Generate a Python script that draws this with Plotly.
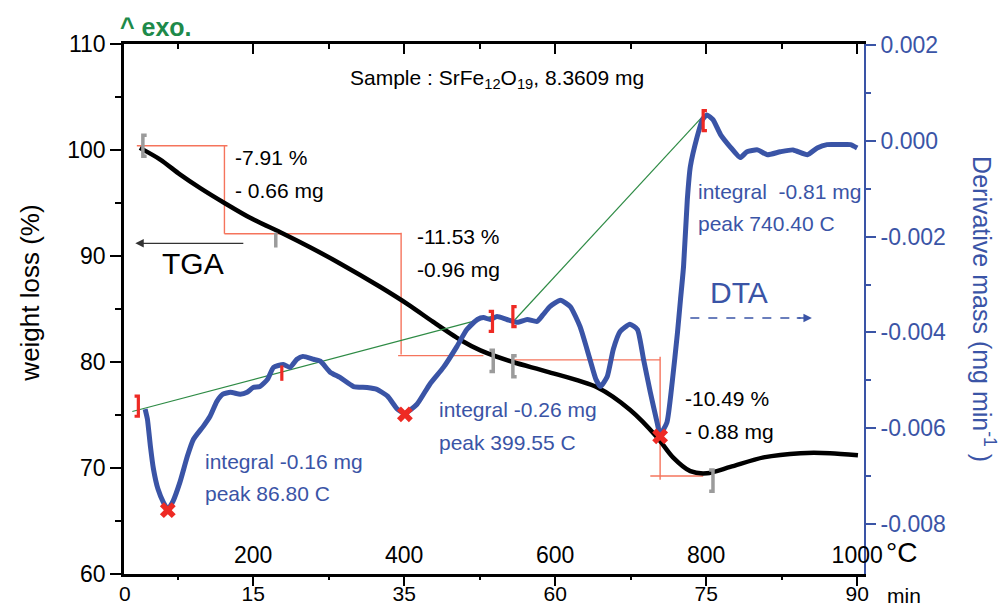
import plotly.graph_objects as go

# ---------------- data ----------------
# TGA curve: temperature (°C) vs weight (%)
tga_temp = [50, 77, 103, 130, 162, 196, 240, 276, 315, 368, 408, 438, 474, 501, 544,
            589, 656, 699, 735, 756, 779, 801, 832, 876, 925, 964, 1001]
tga_wt = [100.2, 99.1, 97.7, 96.4, 95.0, 93.6, 92.1, 90.8, 89.3, 87.1, 85.3, 83.8, 82.1, 81.1, 80.0,
          79.1, 77.6, 75.5, 72.9, 71.0, 69.7, 69.5, 70.1, 71.0, 71.4, 71.4, 71.2]

# DTA / derivative mass curve: temperature (°C) vs mg/min
dta_temp = [57, 60, 64, 68, 74, 81, 87, 94, 103, 113, 121, 134, 143, 152, 160, 170, 183, 192, 200, 209,
            219, 227, 240, 249, 258, 266, 280, 289, 302, 315, 333, 351, 364, 378, 391, 401, 417, 434, 452, 470,
            483, 497, 505, 514, 523, 536, 550, 563, 576, 584, 593, 607, 620, 633, 646, 654, 660, 669, 677, 686,
            699, 709, 717, 726, 735, 739, 748, 755, 762, 766, 770, 775, 779, 788, 795, 801, 809, 819, 832, 845,
            854, 868, 881, 898, 915, 934, 947, 960, 978, 991, 1000]
dta_val = [-5.60e-3, -5.81e-3, -6.38e-3, -6.85e-3, -7.27e-3, -7.54e-3, -7.69e-3, -7.52e-3, -7.13e-3, -6.58e-3,
           -6.23e-3, -5.96e-3, -5.75e-3, -5.44e-3, -5.29e-3, -5.25e-3, -5.29e-3, -5.25e-3, -5.15e-3, -5.13e-3,
           -4.98e-3, -4.73e-3, -4.67e-3, -4.73e-3, -4.56e-3, -4.50e-3, -4.56e-3, -4.60e-3, -4.83e-3, -4.94e-3,
           -5.13e-3, -5.15e-3, -5.19e-3, -5.33e-3, -5.60e-3, -5.69e-3, -5.50e-3, -5.08e-3, -4.73e-3, -4.29e-3,
           -3.94e-3, -3.73e-3, -3.69e-3, -3.73e-3, -3.67e-3, -3.73e-3, -3.79e-3, -3.73e-3, -3.77e-3, -3.63e-3,
           -3.46e-3, -3.33e-3, -3.46e-3, -3.88e-3, -4.56e-3, -4.98e-3, -5.13e-3, -4.92e-3, -4.35e-3, -3.98e-3,
           -3.83e-3, -3.94e-3, -4.56e-3, -5.25e-3, -5.88e-3, -6.13e-3, -5.88e-3, -5.04e-3, -4.00e-3, -3.31e-3,
           -2.63e-3, -1.23e-3, -0.54e-3, 0.08e-3, 0.44e-3, 0.54e-3, 0.44e-3, 0.13e-3, -0.13e-3, -0.35e-3,
           -0.23e-3, -0.19e-3, -0.29e-3, -0.23e-3, -0.19e-3, -0.29e-3, -0.15e-3, -0.08e-3, -0.08e-3, -0.08e-3,
           -0.15e-3]

# peak markers on DTA
peak_temp = [87, 401, 739]
peak_val = [-7.71e-3, -5.71e-3, -6.17e-3]

# baselines (green) on DTA axis
base1_temp = [40, 515]
base1_val = [-5.65e-3, -3.67e-3]
base2_temp = [547, 796]
base2_val = [-3.73e-3, 0.52e-3]

# TGA step lines (red), left axis
step_temp = [46, 166, None, 162, 162, None, 162, 396, None, 396, 396, None, 392, 505, None,
             544, 739, None, 739, 739, None, 726, 796]
step_wt = [100.4, 100.4, None, 100.4, 92.1, None, 92.1, 92.1, None, 92.2, 80.7, None, 80.6, 80.6, None,
           80.2, 80.2, None, 80.5, 68.9, None, 69.25, 69.25]

# grey step limits on TGA
gbr_temp = [54, 230, 518, 544, 809]
gbr_wt = [100.4, 91.5, 80.1, 79.6, 68.8]
gbr_kind = ['[', '|', ']', '[', ']']

# red integration limits on DTA
rbr_temp = [48, 238, 517, 544, 796]
rbr_val = [-5.54e-3, -4.85e-3, -3.77e-3, -3.67e-3, 0.42e-3]
rbr_kind = [']', '|', ']', '[', '[']

# axis ticks
temp_ticks = [200, 400, 600, 800, 1000]
temp_labels = ['200', '400', '600', '800', '1000']
min_tick_temp = [30, 200, 400, 600, 800, 1000]
min_labels = ['0', '15', '35', '60', '75', '90']
minor_temp = [100, 300, 500, 700, 900]
wt_ticks = [60, 70, 80, 90, 100, 110]
wt_minor = [65, 75, 85, 95, 105]
dta_ticks = [-0.008, -0.006, -0.004, -0.002, 0.000, 0.002]
dta_labels = ['-0.008', '-0.006', '-0.004', '-0.002', '0.000', '0.002']
dta_minor = [-0.007, -0.005, -0.003, -0.001, 0.001]

# text annotations: (temp, weight %, text)
notes_black = [(173.5, 99.25, '-7.91 %'), (173.5, 96.2, '- 0.66 mg'),
               (414.6, 91.8, '-11.53 %'), (414.6, 88.7, '-0.96 mg'),
               (769.5, 76.6, '-10.49 %'), (769.5, 73.4, '- 0.88 mg')]
notes_blue = [(133.8, 70.6, 'integral -0.16 mg'), (133.8, 67.6, 'peak 86.80 C'),
              (443.7, 75.5, 'integral -0.26 mg'), (443.7, 72.45, 'peak 399.55 C'),
              (786.8, 96.1, 'integral\u00a0\u00a0-0.81 mg'), (786.8, 93.1, 'peak 740.40 C')]

BLUE = '#3A54A6'
RED = '#EE2A24'
SALMON = '#F5745C'
GREEN = '#2E8B45'
GREY = '#9B9B9B'
FONT = 'Liberation Sans, Arial, sans-serif'
XR = [29, 1009]


def bracket_path(ts, vs, kinds, half, half_bar, cap):
    xs, ys = [], []
    for t, v, k in zip(ts, vs, kinds):
        if k == '|':
            xs += [t, t, None]
            ys += [v + half_bar, v - half_bar, None]
        else:
            c = cap if k == '[' else -cap
            xs += [t + c, t, t, t + c, None]
            ys += [v + half, v + half, v - half, v - half, None]
    return xs, ys


fig = go.Figure()

# invisible anchors so the overlay axes (minutes / tick marks) get drawn
for ax in ['x2', 'x3', 'x4']:
    fig.add_trace(go.Scatter(x=[500], y=[85], mode='markers', marker=dict(opacity=0),
                             xaxis=ax, yaxis='y', hoverinfo='skip'))

# red step lines
fig.add_trace(go.Scatter(x=step_temp, y=step_wt, mode='lines', line=dict(color=SALMON, width=1.4),
                         xaxis='x', yaxis='y', hoverinfo='skip'))
# green baselines
fig.add_trace(go.Scatter(x=base1_temp, y=base1_val, mode='lines', line=dict(color=GREEN, width=1.2),
                         xaxis='x', yaxis='y2'))
fig.add_trace(go.Scatter(x=base2_temp, y=base2_val, mode='lines', line=dict(color=GREEN, width=1.2),
                         xaxis='x', yaxis='y2'))
# TGA
fig.add_trace(go.Scatter(x=tga_temp, y=tga_wt, mode='lines', line=dict(color='black', width=4.5, shape='spline', smoothing=0.8),
                         xaxis='x', yaxis='y'))
# DTA
fig.add_trace(go.Scatter(x=dta_temp, y=dta_val, mode='lines', line=dict(color=BLUE, width=5, shape='spline', smoothing=0.5),
                         xaxis='x', yaxis='y2'))
# grey brackets
gx, gy = bracket_path(gbr_temp, gbr_wt, gbr_kind, 1.0, 0.7, 5)
fig.add_trace(go.Scatter(x=gx, y=gy, mode='lines', line=dict(color=GREY, width=3.5), xaxis='x', yaxis='y'))
# red brackets
rx, ry = bracket_path(rbr_temp, rbr_val, rbr_kind, 0.00021, 0.00016, 5)
fig.add_trace(go.Scatter(x=rx, y=ry, mode='lines', line=dict(color=RED, width=3.2), xaxis='x', yaxis='y2'))
# peak markers
fig.add_trace(go.Scatter(x=peak_temp, y=peak_val, mode='markers',
                         marker=dict(symbol='x', size=14, color=RED, line=dict(width=0)),
                         xaxis='x', yaxis='y2'))
# DTA dashed arrow shaft
fig.add_trace(go.Scatter(x=[779, 925], y=[84.15, 84.15], mode='lines',
                         line=dict(color=BLUE, width=1.3, dash='dash'), xaxis='x', yaxis='y'))

ann = []
for t, v, s in notes_black:
    ann.append(dict(x=t, y=v, xref='x', yref='y', text=s, showarrow=False, xanchor='left', yanchor='middle',
                    font=dict(family=FONT, size=21, color='black')))
for t, v, s in notes_blue:
    ann.append(dict(x=t, y=v, xref='x', yref='y', text=s, showarrow=False, xanchor='left', yanchor='middle',
                    font=dict(family=FONT, size=21, color=BLUE)))


def pnote(x, y, text, size, color, angle=0, xanchor='center'):
    return dict(x=x, y=y, xref='paper', yref='paper', text=text, showarrow=False, textangle=angle,
                xanchor=xanchor, yanchor='middle', font=dict(family=FONT, size=size, color=color))


ann += [
    dict(x=119.9, y=89.3, xref='x', yref='y', text='TGA', showarrow=False, xanchor='center', yanchor='middle',
         font=dict(family=FONT, size=30, color='black')),
    dict(x=843.7, y=86.6, xref='x', yref='y', text='DTA', showarrow=False, xanchor='center', yanchor='middle',
         font=dict(family=FONT, size=30, color=BLUE)),
    dict(x=44, y=91.2, ax=189, ay=91.2, xref='x', yref='y', axref='x', ayref='y', text='', showarrow=True,
         arrowhead=2, arrowsize=1.3, arrowwidth=1.3, arrowcolor='#333333'),
    dict(x=940, y=84.15, ax=918, ay=84.15, xref='x', yref='y', axref='x', ayref='y', text='', showarrow=True,
         arrowhead=2, arrowsize=1.3, arrowwidth=1.3, arrowcolor=BLUE),
    pnote(0.504, 0.934, 'Sample : SrFe<sub>12</sub>O<sub>19</sub>, 8.3609 mg', 21, 'black'),
    pnote(-0.008, 1.032, '<b>^ exo.</b>', 25, '#1E8A4A', xanchor='left'),
    pnote(-0.127, 0.529, 'weight loss (%)', 26, 'black', angle=-90),
    pnote(1.162, 0.5, 'Derivative mass (mg min<sup>-1</sup> )', 25, BLUE, angle=90),
    pnote(1.051, 0.04, '°C', 28, 'black'),
    pnote(1.054, -0.040, 'min', 21, 'black'),
]

fig.update_layout(
    width=1008, height=609,
    margin=dict(l=124, r=144, t=44, b=35, autoexpand=False),
    paper_bgcolor='white', plot_bgcolor='white',
    showlegend=False,
    annotations=ann,
    # temperature labels, drawn inside the frame
    xaxis=dict(domain=[0, 1], range=XR, anchor='y', tickmode='array', tickvals=temp_ticks, ticktext=temp_labels,
               ticks='inside', ticklen=8, tickcolor='rgba(0,0,0,0)', ticklabelposition='inside', ticklabeloverflow='allow',
               showline=True, linecolor='black', linewidth=2.5, showgrid=False, zeroline=False,
               tickfont=dict(family=FONT, size=23, color='black')),
    # minute labels under the frame
    xaxis2=dict(overlaying='x', side='bottom', anchor='y', range=XR, tickmode='array', tickvals=min_tick_temp,
                ticktext=min_labels, ticks='outside', ticklen=1, tickcolor='rgba(0,0,0,0)',
                showline=False, showgrid=False, zeroline=False, ticklabeloverflow='allow',
                tickfont=dict(family=FONT, size=21, color='black')),
    # bottom tick marks
    xaxis4=dict(overlaying='x', side='bottom', anchor='y', range=XR, tickmode='array', tickvals=temp_ticks,
                ticks='outside', ticklen=11, tickwidth=2, tickcolor='black', showticklabels=False,
                minor=dict(tickmode='array', tickvals=minor_temp, ticks='outside', ticklen=5, tickwidth=2, tickcolor='black'),
                showline=False, showgrid=False, zeroline=False),
    # top frame with inward ticks
    xaxis3=dict(overlaying='x', side='top', anchor='y', range=XR, tickmode='array', tickvals=temp_ticks,
                ticks='inside', ticklen=10, tickwidth=2, tickcolor='black', showticklabels=False,
                minor=dict(tickmode='array', tickvals=minor_temp, ticks='inside', ticklen=5, tickwidth=2, tickcolor='black'),
                showline=True, linecolor='black', linewidth=2.5, showgrid=False, zeroline=False),
    yaxis=dict(domain=[0, 1], range=[60, 110], anchor='x', tickmode='array', tickvals=wt_ticks,
               ticks='outside', ticklen=11, tickwidth=2, tickcolor='black',
               minor=dict(tickmode='array', tickvals=wt_minor, ticks='outside', ticklen=6, tickwidth=2, tickcolor='black'),
               showline=True, linecolor='black', linewidth=2.5, showgrid=False, zeroline=False,
               tickfont=dict(family=FONT, size=23, color='black')),
    yaxis2=dict(overlaying='y', side='right', anchor='x', range=[-0.009042, 0.00202], tickmode='array',
                tickvals=dta_ticks, ticktext=dta_labels, ticks='outside', ticklen=10, tickwidth=2, tickcolor=BLUE,
                minor=dict(tickmode='array', tickvals=dta_minor, ticks='outside', ticklen=5, tickwidth=2, tickcolor=BLUE),
                showline=True, linecolor=BLUE, linewidth=2, showgrid=False, zeroline=False,
                tickfont=dict(family=FONT, size=23, color=BLUE)),
)

fig.write_html('out.html')
